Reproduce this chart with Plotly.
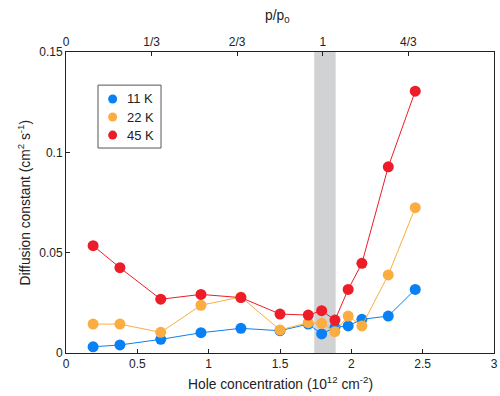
import plotly.graph_objects as go

# Data
hole_conc = [0.19, 0.378, 0.664, 0.946, 1.226, 1.50, 1.698, 1.792, 1.885, 1.978, 2.074, 2.259, 2.448]
d_11K = [0.0031, 0.0040, 0.0068, 0.0101, 0.0123, 0.0111, 0.0144, 0.0095, 0.0128, 0.0135, 0.0168, 0.0184, 0.0317]
d_22K = [0.0144, 0.0144, 0.0103, 0.0238, 0.0279, 0.0115, 0.0151, 0.0148, 0.0106, 0.0184, 0.0135, 0.0389, 0.0724]
d_45K = [0.0535, 0.0425, 0.0268, 0.0292, 0.0276, 0.0194, 0.0189, 0.0211, 0.0164, 0.0317, 0.0447, 0.0928, 0.1305]

series_names = ["11 K", "22 K", "45 K"]
series_colors = ["#0a80f5", "#fbad41", "#ec1c28"]

p0 = 1.8  # hole concentration at p/p0 = 1
top_tickvals = [0, 1/3, 2/3, 1, 4/3]
top_ticktext = ["0", "1/3", "2/3", "1", "4/3"]
bottom_tickvals = [0, 0.5, 1, 1.5, 2, 2.5, 3]
bottom_ticktext = ["0", "0.5", "1", "1.5", "2", "2.5", "3"]
y_tickvals = [0, 0.05, 0.1, 0.15]
y_ticktext = ["0", "0.05", "0.1", "0.15"]
band = [1.74, 1.89]

font_family = "Liberation Sans, Arial, Helvetica, sans-serif"
txt_col = "#222"

fig = go.Figure()
for name, vals, col in zip(series_names, [d_11K, d_22K, d_45K], series_colors):
    fig.add_trace(go.Scatter(
        x=hole_conc, y=vals, mode="lines+markers", name=name,
        line=dict(color=col, width=1),
        marker=dict(color=col, size=11, line=dict(width=0)),
        showlegend=False, cliponaxis=False,
    ))
# invisible trace on top axis
fig.add_trace(go.Scatter(x=[0, 3 / p0], y=[None, None], xaxis="x2", yaxis="y",
                         mode="markers", showlegend=False, hoverinfo="skip"))

fig.add_shape(type="rect", xref="x", yref="paper", x0=band[0], x1=band[1], y0=0, y1=1,
              fillcolor="#d1d2d4", line=dict(width=0), layer="below")

# Custom legend (box, dots, labels)
fig.add_shape(type="rect", xref="paper", yref="paper", x0=0.0748, x1=0.222, y0=0.681, y1=0.890,
              line=dict(color="#555", width=1), fillcolor="rgba(0,0,0,0)")
leg_y = [0.844, 0.784, 0.724]
for name, col, ly in zip(series_names, series_colors, leg_y):
    fig.add_shape(type="circle", xref="paper", yref="paper", xsizemode="pixel", ysizemode="pixel",
                  xanchor=0.109, yanchor=ly, x0=-4.5, x1=4.5, y0=-4.5, y1=4.5,
                  fillcolor=col, line=dict(width=0))
    fig.add_annotation(x=0.139, y=ly, xref="paper", yref="paper", text=name, showarrow=False,
                       xanchor="left", yanchor="middle", font=dict(size=13, color=txt_col))

# Axis titles
fig.add_annotation(x=0.5, y=0, xref="paper", yref="paper", yshift=-30, showarrow=False,
                   text="Hole concentration (10<sup>12</sup> cm<sup>-2</sup>)",
                   xanchor="center", yanchor="middle", font=dict(size=13.8, color=txt_col))
fig.add_annotation(x=0.494, y=1, xref="paper", yref="paper", yshift=36, showarrow=False,
                   text="p/p<sub>0</sub>",
                   xanchor="center", yanchor="middle", font=dict(size=13.8, color=txt_col))
fig.add_annotation(x=0, y=0.5, xref="paper", yref="paper", xshift=-42, showarrow=False,
                   text="Diffusion constant (cm<sup>2</sup> s<sup>-1</sup>)", textangle=-90,
                   xanchor="center", yanchor="middle", font=dict(size=13.8, color=txt_col))

axis_common = dict(showgrid=False, zeroline=False, showline=True, linecolor="#222",
                   linewidth=1, ticks="inside", ticklen=4, tickcolor="#222",
                   tickfont=dict(size=12, color=txt_col), automargin=False,
                   ticklabeloverflow="allow")

fig.update_layout(
    width=500, height=396,
    margin=dict(l=66, r=6, t=52, b=43),
    paper_bgcolor="white", plot_bgcolor="white",
    font=dict(family=font_family, size=12, color=txt_col),
    showlegend=False,
    xaxis=dict(range=[0, 3], tickvals=bottom_tickvals, ticktext=bottom_ticktext, **axis_common),
    xaxis2=dict(range=[0, 3 / p0], overlaying="x", side="top",
                tickvals=top_tickvals, ticktext=top_ticktext, **axis_common),
    yaxis=dict(range=[0, 0.15], tickvals=y_tickvals, ticktext=y_ticktext, mirror=True,
               **axis_common),
)

fig.write_html("out.html", config={"displayModeBar": False},
               post_script="document.body.style.margin='0';document.body.style.overflow='hidden';")
